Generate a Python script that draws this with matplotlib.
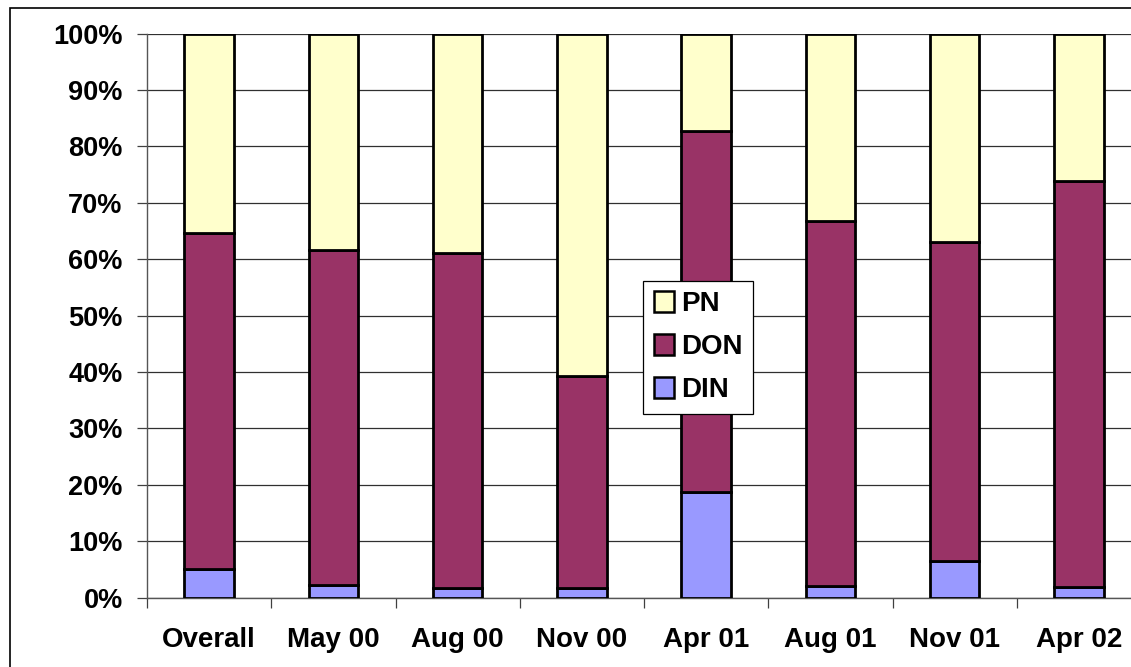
#!/usr/bin/env python3
"""Nitrogen fractions (DIN / DON / PN) per sampling campaign, as 100% stacked bars."""
import numpy as np
import matplotlib
matplotlib.use("Agg")
import matplotlib.pyplot as plt
from matplotlib.patches import Rectangle
from matplotlib.ticker import FixedLocator, PercentFormatter

# share of total nitrogen, in percent
campaigns = ["Overall", "May 00", "Aug 00", "Nov 00", "Apr 01", "Aug 01", "Nov 01", "Apr 02"]
din = [5.0, 2.3, 1.7, 1.6, 18.7, 2.1, 6.4, 1.9]
don = [59.6, 59.3, 59.3, 37.7, 64.1, 64.7, 56.6, 72.0]
pn = [35.4, 38.4, 39.0, 60.7, 17.2, 33.2, 37.0, 26.1]

DIN_COLOR = "#9999FF"
DON_COLOR = "#993366"
PN_COLOR = "#FFFFCC"


def main():
    plt.rcParams["font.family"] = ["Liberation Sans", "DejaVu Sans"]
    plt.rcParams["font.weight"] = "bold"

    W, H = 1131, 667
    fig = plt.figure(figsize=(W / 100, H / 100), dpi=100)
    # plot area runs past the right edge of the canvas on purpose
    ax = fig.add_axes([147 / W, (H - 597.5) / H, (1141 - 147) / W, 564 / H])

    x = np.arange(len(campaigns))
    din_a, don_a, pn_a = np.array(din), np.array(don), np.array(pn)
    bw = 0.40
    kw = dict(width=bw, edgecolor="black", linewidth=2.0, zorder=3)
    b_din = ax.bar(x, din_a, color=DIN_COLOR, label="DIN", **kw)
    b_don = ax.bar(x, don_a, bottom=din_a, color=DON_COLOR, label="DON", **kw)
    b_pn = ax.bar(x, pn_a, bottom=din_a + don_a, color=PN_COLOR, label="PN", **kw)

    ax.set_xlim(-0.5, len(campaigns) - 0.5)
    ax.set_ylim(0, 100)
    ax.set_yticks(np.arange(0, 101, 10))
    ax.yaxis.set_major_formatter(PercentFormatter(decimals=0))
    ax.yaxis.grid(True, color="#303030", linewidth=0.9, zorder=0)
    ax.set_axisbelow(True)

    ax.set_xticks(x)
    ax.set_xticklabels(campaigns)
    ax.xaxis.set_minor_locator(FixedLocator(np.arange(-0.5, len(campaigns), 1.0)))
    ax.tick_params(axis="x", which="major", length=0, pad=21.5, labelsize=20)
    ax.tick_params(axis="x", which="minor", length=7.5, width=0.9, color="#404040",
                   direction="out")
    ax.tick_params(axis="y", length=7.5, width=0.9, color="#404040", pad=10,
                   labelsize=19.5)

    for side in ("top", "right"):
        ax.spines[side].set_visible(False)
    for side in ("left", "bottom"):
        ax.spines[side].set_color("#555555")
        ax.spines[side].set_linewidth(1.0)

    leg = fig.legend([b_pn, b_don, b_din], ["PN", "DON", "DIN"],
                     loc="upper left", bbox_to_anchor=(643 / W, 1 - 280.5 / H),
                     borderaxespad=0, fontsize=20, frameon=True, fancybox=False,
                     handlelength=0.75, handleheight=0.8, handletextpad=0.25,
                     labelspacing=0.6, borderpad=0.38)
    leg.get_frame().set_edgecolor("black")
    leg.get_frame().set_linewidth(0.9)
    leg.get_frame().set_alpha(1.0)
    for patch in leg.get_patches():
        patch.set_linewidth(1.8)

    # outer chart frame, cut off at the right and bottom
    fig.patches.append(Rectangle((10 / W, -0.2), 1.2, 0.2 + (H - 8) / H,
                                 transform=fig.transFigure, fill=False,
                                 edgecolor="black", linewidth=1.2))

    fig.savefig("out.png", dpi=100, facecolor="white")
    plt.close(fig)


if __name__ == "__main__":
    main()
